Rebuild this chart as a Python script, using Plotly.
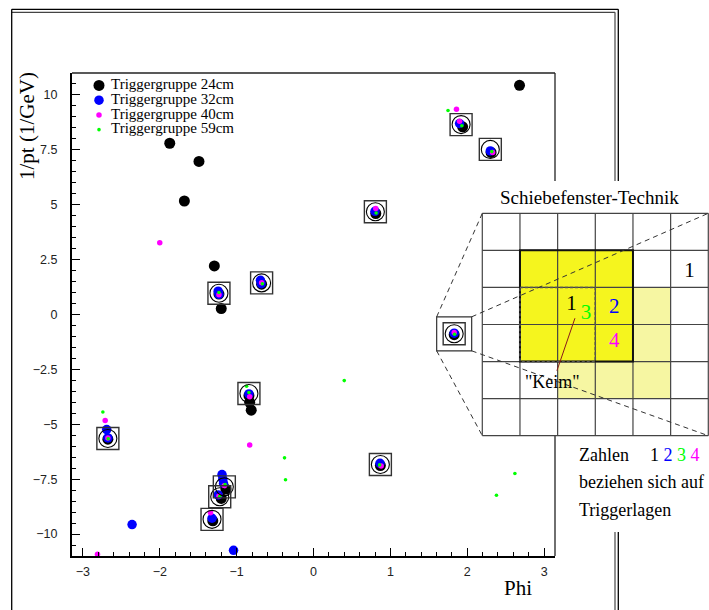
import math
import plotly.graph_objects as go

W, H = 709, 610

# ---------------- data ----------------
series_names = ["Triggergruppe 24cm", "Triggergruppe 32cm",
                "Triggergruppe 40cm", "Triggergruppe 59cm"]
series_colors = ["#000000", "#0000ff", "#ff00ff", "#00ff00"]
series_sizes = [11, 9.5, 5.5, 3.6]

phi_24 = [2.68, -1.87, -1.49, -1.68, -1.29, -1.20, -0.83, -0.81,
          -1.23, -0.675, 1.94, 2.31, 0.81, 1.83, -0.84, -2.675, 0.87,
          -1.14, -1.20, -1.31]
ipt_24 = [10.44, 7.80, 6.97, 5.17, 2.21, 0.27, -4.00, -4.36,
          0.93, 1.38, 8.55, 7.38, 4.60, -0.92, -3.70, -5.68, -6.88,
          -7.95, -8.38, -9.40]

phi_32 = [-1.24, -1.23, -0.69, -0.68, 1.90, 2.30, 0.80, 1.83, -0.84,
          -2.675, 0.865, -1.17, -1.24, -1.32,
          -2.69, -1.19, -1.18, -2.36, -1.04]
ipt_32 = [1.06, 0.92, 1.56, 1.40, 8.70, 7.45, 4.70, -0.85, -3.62,
          -5.62, -6.78, -7.70, -8.22, -9.28,
          -5.24, -7.29, -7.50, -9.57, -10.74]

phi_40 = [-1.23, -0.675, 1.90, 2.33, 0.81, 1.83, -0.83, -2.675, 0.88,
          -1.16, -1.23,
          1.86, -2.71, -1.34, -2.81, -0.83, -2.00]
ipt_40 = [0.90, 1.45, 8.80, 7.38, 4.83, -0.82, -3.75, -5.63, -6.90,
          -7.80, -8.27,
          9.35, -4.83, -9.03, -10.92, -5.94, 3.27]

phi_59 = [-1.23, -0.665, 1.93, 2.32, 0.815, 1.835, -0.84, -2.67, 0.86,
          -1.15, -1.22,
          1.75, -2.74, -0.87, -0.377, -0.364, 0.40, 2.62, 2.38]
ipt_59 = [1.00, 1.40, 8.60, 7.42, 4.62, -0.90, -3.55, -5.66, -6.85,
          -7.75, -8.28,
          9.29, -4.44, -3.27, -6.53, -7.53, -3.01, -7.24, -8.23]

# found track candidates (circle + box)
track_phi = [-1.23, -0.675, 1.92, 2.30, 0.805, 1.83, -0.84, -2.675, 0.87,
             -1.16, -1.22, -1.32]
track_ipt = [0.97, 1.44, 8.65, 7.52, 4.68, -0.88, -3.60, -5.65, -6.83,
             -7.85, -8.30, -9.33]
zoomed_track = 5

x_ticks_range = [-math.pi, math.pi]
y_range = [-11, 11]

# sliding-window sketch (6 x 6 cells)
grid_cells = 6
window_strong = [1, 1, 4, 4]      # col0, row0, col1, row1
window_weak = [2, 2, 5, 5]
seed_box = [1, 2, 3, 4]
digit_text = ["1", "3", "2", "4", "1"]
digit_col = [2.37, 2.75, 3.50, 3.50, 5.50]
digit_row = [2.47, 2.70, 2.55, 3.46, 1.58]
digit_colors = ["#000000", "#00ff00", "#0000ff", "#ff00ff", "#000000"]

# ---------------- geometry helpers ----------------
PX0, PX1, PY0, PY1 = 72, 555, 73, 556          # main plot box (pixels)
GX0, GX1, GY0, GY1 = 482.3, 708.3, 213.3, 435.7  # inset grid box (pixels)


def xp(px):
    return px / W


def yp(py):
    return 1 - py / H


def data_to_px(x, y):
    fx = (x - x_ticks_range[0]) / (x_ticks_range[1] - x_ticks_range[0])
    fy = (y - y_range[0]) / (y_range[1] - y_range[0])
    return PX0 + fx * (PX1 - PX0), PY1 - fy * (PY1 - PY0)


serif = "Liberation Serif, Times New Roman, serif"
sans = "Liberation Sans, Arial, sans-serif"

fig = go.Figure()

series = [(phi_24, ipt_24), (phi_32, ipt_32), (phi_40, ipt_40), (phi_59, ipt_59)]
for (xs, ys), name, col, size in zip(series, series_names, series_colors, series_sizes):
    fig.add_trace(go.Scatter(x=xs, y=ys, mode="markers", name=name,
                             marker=dict(color=col, size=size, opacity=1, line=dict(width=0)),
                             showlegend=False, xaxis="x", yaxis="y"))

fig.add_trace(go.Scatter(x=track_phi, y=track_ipt, mode="markers", name="Kreis",
                         marker=dict(symbol="circle-open", size=18, color="#000000",
                                     line=dict(width=1.1)),
                         showlegend=False, xaxis="x", yaxis="y"))
fig.add_trace(go.Scatter(x=track_phi, y=track_ipt, mode="markers", name="Box",
                         marker=dict(symbol="square-open", size=22, color="#333333",
                                     line=dict(width=1.4)),
                         showlegend=False, xaxis="x", yaxis="y"))

# key in the upper left corner, one marker per series
for row, (name, col, size) in enumerate(zip(series_names, series_colors, series_sizes)):
    fig.add_trace(go.Scatter(x=[0], y=[row], mode="markers", name=name,
                             marker=dict(color=col, size=size, opacity=1, line=dict(width=0)),
                             showlegend=False, cliponaxis=False, hoverinfo="skip",
                             xaxis="x3", yaxis="y3"))
key_rows = list(range(len(series_names)))
fig.add_trace(go.Scatter(x=[0.06] * len(key_rows), y=key_rows, mode="text",
                         text=series_names, textposition="middle right",
                         textfont=dict(family=serif, size=15, color="#000000"),
                         showlegend=False, cliponaxis=False, hoverinfo="skip",
                         xaxis="x3", yaxis="y3"))

# digits in the window sketch
fig.add_trace(go.Scatter(x=digit_col, y=digit_row, mode="text", text=digit_text,
                         textposition="middle center",
                         textfont=dict(family=serif, size=21, color=digit_colors),
                         showlegend=False, cliponaxis=False, hoverinfo="skip",
                         xaxis="x2", yaxis="y2"))

shapes = []


def pline(x0, y0, x1, y1, color="#000000", width=1.3, dash=None, layer="below"):
    d = dict(type="line", xref="paper", yref="paper",
             x0=xp(x0), y0=yp(y0), x1=xp(x1), y1=yp(y1),
             line=dict(color=color, width=width), layer=layer)
    if dash:
        d["line"]["dash"] = dash
    shapes.append(d)


# page frame
pline(11.7, 9.3, 618.3, 9.3, "#000000", 1.3)
pline(11.7, 12.3, 615.0, 12.3, "#444444", 1.3)
pline(11.7, 9.3, 11.7, 610, "#000000", 1.3)
pline(618.3, 9.3, 618.3, 610, "#000000", 1.3)
pline(615.0, 12.3, 615.0, 610, "#555555", 1.3)
# plot box, top and right
pline(PX0, PY0, PX1, PY0, "#222222", 1.3)
pline(PX1, PY0, PX1, PY1, "#222222", 1.3)

# white background behind the sketch and its caption
shapes.append(dict(type="rect", xref="paper", yref="paper", layer="below",
                   x0=xp(484), x1=xp(709), y0=yp(436), y1=yp(181),
                   fillcolor="white", line=dict(width=0)))
shapes.append(dict(type="rect", xref="paper", yref="paper", layer="below",
                   x0=xp(566), x1=xp(709), y0=yp(532), y1=yp(436),
                   fillcolor="white", line=dict(width=0)))

# window cells
shapes.append(dict(type="rect", xref="x2", yref="y2", layer="below",
                   x0=window_weak[0], y0=window_weak[1], x1=window_weak[2], y1=window_weak[3],
                   fillcolor="#f6f6a2", line=dict(width=0)))
shapes.append(dict(type="rect", xref="x2", yref="y2", layer="below",
                   x0=window_strong[0], y0=window_strong[1], x1=window_strong[2], y1=window_strong[3],
                   fillcolor="#f5f51e", line=dict(width=0)))
for i in range(grid_cells + 1):
    shapes.append(dict(type="line", xref="x2", yref="y2", layer="below",
                       x0=i, x1=i, y0=0, y1=grid_cells,
                       line=dict(color="#444444", width=1.2)))
    shapes.append(dict(type="line", xref="x2", yref="y2", layer="below",
                       x0=0, x1=grid_cells, y0=i, y1=i,
                       line=dict(color="#444444", width=1.2)))
shapes.append(dict(type="rect", xref="x2", yref="y2", layer="above",
                   x0=window_strong[0], y0=window_strong[1], x1=window_strong[2], y1=window_strong[3],
                   line=dict(color="#111111", width=2)))
shapes.append(dict(type="rect", xref="x2", yref="y2", layer="above",
                   x0=seed_box[0], y0=seed_box[1], x1=seed_box[2], y1=seed_box[3],
                   line=dict(color="#555555", width=1.5, dash="3px,2px")))

# zoom box around the selected track and the connecting lines
zx, zy = data_to_px(track_phi[zoomed_track], track_ipt[zoomed_track])
bx0, bx1, by0, by1 = zx - 17.5, zx + 17.5, zy - 17, zy + 17
shapes.append(dict(type="rect", xref="paper", yref="paper", layer="above",
                   x0=xp(bx0), x1=xp(bx1), y0=yp(by1), y1=yp(by0),
                   line=dict(color="#333333", width=1.2)))
pline(bx0, by0, GX0, GY0, "#333333", 1, "5px,4px", "above")
pline(bx0, by1, GX0, GY1, "#333333", 1, "5px,4px", "above")
pline(bx1, by0, GX1, GY0, "#333333", 1, "5px,4px", "above")
pline(bx1, by1, GX1, GY1, "#333333", 1, "5px,4px", "above")


def ptext(text, x, y, size, xanchor="center", angle=0):
    return dict(text=text, x=xp(x), y=yp(y), xref="paper", yref="paper",
                xanchor=xanchor, yanchor="middle", textangle=angle, showarrow=False,
                font=dict(family=serif, size=size, color="#000000"))


annotations = [
    ptext("1/pt (1/GeV)", 27, 126, 21, angle=-90),
    ptext("Phi", 518, 588, 21),
    ptext("Schiebefenster-Technik", 589, 197, 19),
    dict(text='"Keim"', x=2.46, y=2.83, xref="x2", yref="y2", ax=-22, ay=64,
         showarrow=True, arrowhead=0, arrowwidth=1, arrowcolor="#8b1a1a", standoff=0,
         font=dict(family=serif, size=18, color="#000000")),
    ptext("Zahlen", 576.5, 455, 18, xanchor="left"),
    ptext('1 <span style="color:#0000ff">2</span> <span style="color:#00ff00">3</span> '
          '<span style="color:#ff00ff">4</span>', 647.5, 455, 18, xanchor="left"),
    ptext("beziehen sich auf", 576.5, 482, 18, xanchor="left"),
    ptext("Triggerlagen", 576.5, 510, 18, xanchor="left"),
]

tickfont = dict(family=sans, size=12.5, color="#222222")
cell_w = (GX1 - GX0) / grid_cells
cell_h = (GY1 - GY0) / grid_cells
pad = 0.05

fig.update_layout(
    width=W, height=H, autosize=False,
    margin=dict(l=0, r=0, t=0, b=0),
    paper_bgcolor="white", plot_bgcolor="rgba(0,0,0,0)",
    showlegend=False,
    xaxis=dict(domain=[xp(PX0), xp(PX1)], range=x_ticks_range, anchor="y",
               showgrid=False, zeroline=False, showline=True, linewidth=2, linecolor="#000000",
               ticks="inside", ticklen=8, tickwidth=1, tickcolor="#000000",
               tick0=0, dtick=1, tickfont=tickfont, ticklabelstandoff=3,
               minor=dict(ticks="inside", ticklen=4, tickwidth=1, tickcolor="#000000",
                          tick0=0, dtick=0.2, showgrid=False),
               fixedrange=True),
    yaxis=dict(domain=[yp(PY1), yp(PY0)], range=y_range, anchor="x",
               showgrid=False, zeroline=False, showline=True, linewidth=2, linecolor="#000000",
               ticks="inside", ticklen=8, tickwidth=1, tickcolor="#000000",
               tick0=0, dtick=2.5, tickfont=tickfont, ticklabelstandoff=10,
               minor=dict(ticks="inside", ticklen=4, tickwidth=1, tickcolor="#000000",
                          tick0=0, dtick=0.5, showgrid=False),
               fixedrange=True),
    xaxis2=dict(domain=[xp(GX0 - pad * cell_w), 1.0],
                range=[-pad, grid_cells + (W - GX1) / cell_w], anchor="y2",
                visible=False, fixedrange=True),
    yaxis2=dict(domain=[yp(GY1 + pad * cell_h), yp(GY0 - pad * cell_h)],
                range=[grid_cells + pad, -pad], anchor="x2",
                visible=False, fixedrange=True),
    xaxis3=dict(domain=[xp(99), xp(300)], range=[0, 1], anchor="y3",
                visible=False, fixedrange=True),
    yaxis3=dict(domain=[yp(137), yp(78)], range=[3.5, -0.5], anchor="x3",
                visible=False, fixedrange=True),
    shapes=shapes,
    annotations=annotations,
)

fig.write_html("out.html")
